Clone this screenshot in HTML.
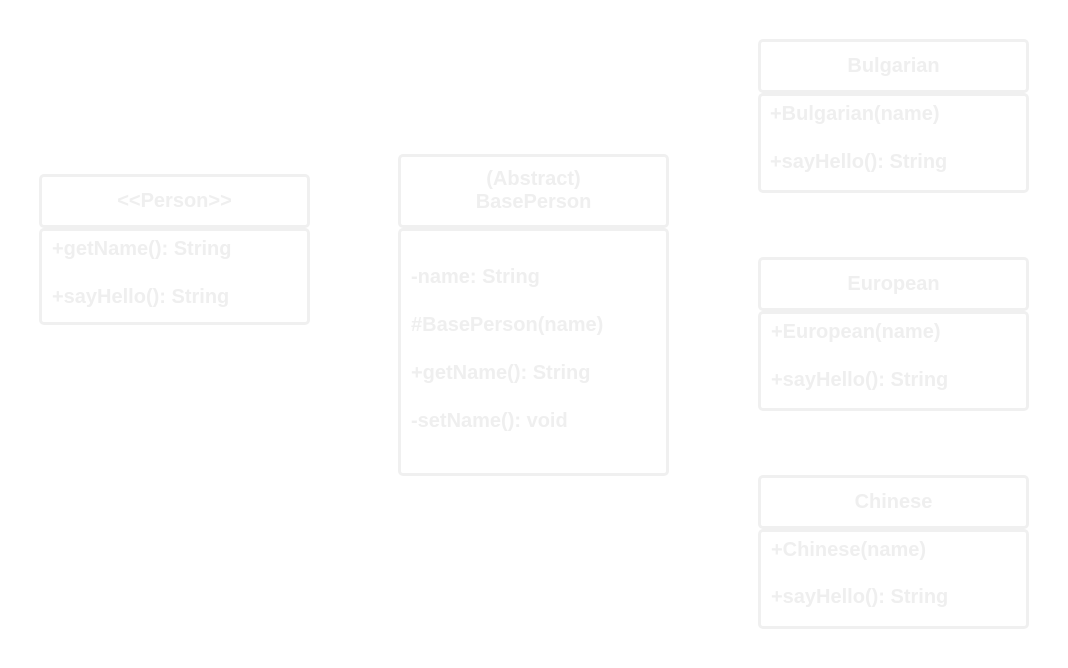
<!DOCTYPE html>
<html><head><style>
body{margin:0;width:1068px;height:668px;background:#fff;position:relative;overflow:hidden;font-family:"Liberation Sans",sans-serif;font-weight:bold;font-size:20px;color:#efefef}
.b{position:absolute;box-sizing:border-box;border:3px solid #f0f0f0;border-radius:5px}
.h{display:flex;align-items:center;justify-content:center;text-align:center;line-height:23px}
.t{position:absolute;white-space:nowrap;line-height:20px}
</style></head><body>
<div class="b h" style="left:39px;top:174px;width:271px;height:54px">&lt;&lt;Person&gt;&gt;</div>
<div class="b" style="left:39px;top:228px;width:271px;height:97px"></div>
<div class="t" style="left:52px;top:239px">+getName(): String</div>
<div class="t" style="left:52px;top:287px">+sayHello(): String</div>

<div class="b h" style="left:398px;top:154px;width:271px;height:74px">(Abstract)<br>BasePerson</div>
<div class="b" style="left:398px;top:228px;width:271px;height:248px"></div>
<div class="t" style="left:411px;top:267px">-name: String</div>
<div class="t" style="left:411px;top:315px">#BasePerson(name)</div>
<div class="t" style="left:411px;top:363px">+getName(): String</div>
<div class="t" style="left:411px;top:411px">-setName(): void</div>

<div class="b h" style="left:758px;top:39px;width:271px;height:54px">Bulgarian</div>
<div class="b" style="left:758px;top:93px;width:271px;height:100px"></div>
<div class="t" style="left:770px;top:104px">+Bulgarian(name)</div>
<div class="t" style="left:770px;top:152px">+sayHello(): String</div>

<div class="b h" style="left:758px;top:257px;width:271px;height:54px">European</div>
<div class="b" style="left:758px;top:311px;width:271px;height:100px"></div>
<div class="t" style="left:771px;top:322px">+European(name)</div>
<div class="t" style="left:771px;top:370px">+sayHello(): String</div>

<div class="b h" style="left:758px;top:475px;width:271px;height:54px">Chinese</div>
<div class="b" style="left:758px;top:529px;width:271px;height:100px"></div>
<div class="t" style="left:771px;top:540px">+Chinese(name)</div>
<div class="t" style="left:771px;top:587px">+sayHello(): String</div>
</body></html>
